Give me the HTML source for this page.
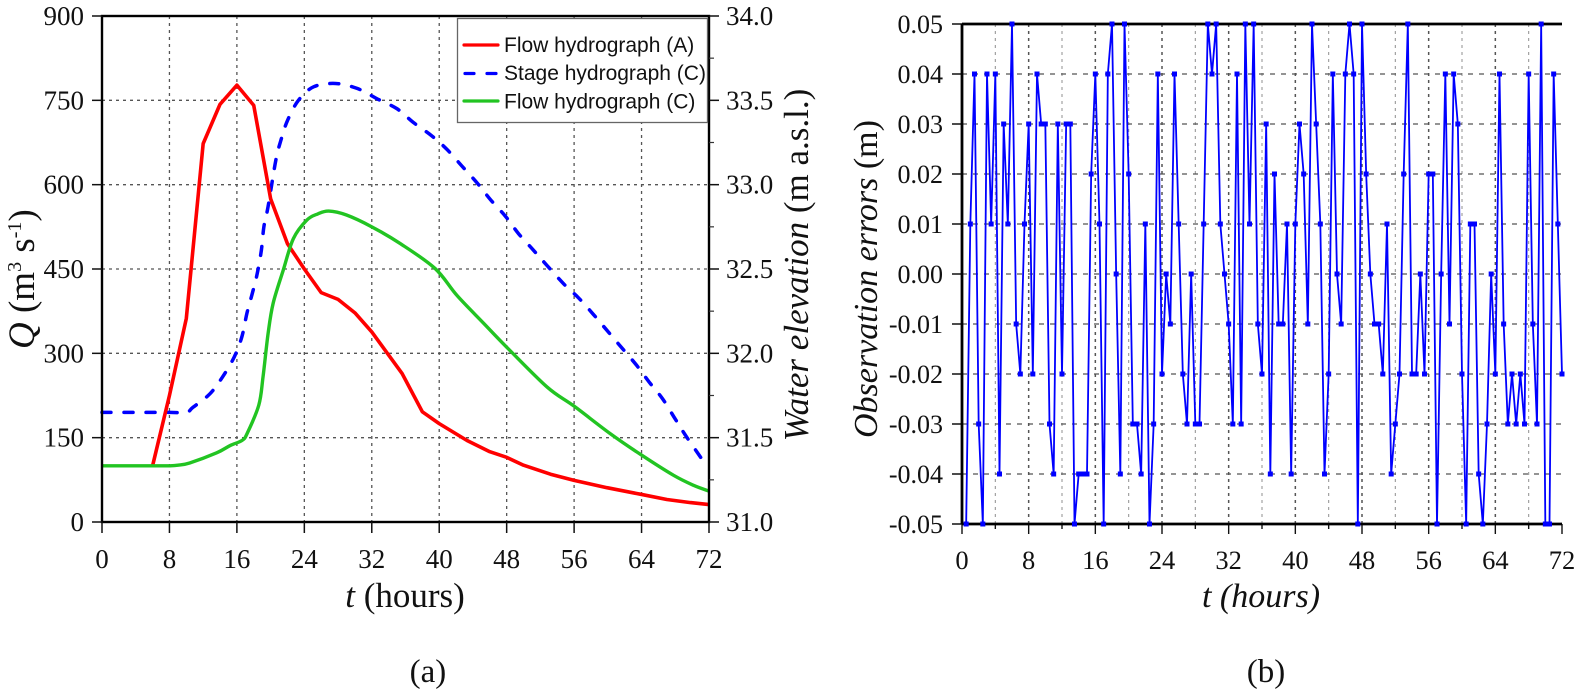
<!DOCTYPE html>
<html lang="en">
<head>
<meta charset="utf-8">
<title>Hydrographs and observation errors</title>
<style>
html,body{margin:0;padding:0;background:#fff;width:1584px;height:696px;overflow:hidden}
svg{display:block}
text{font-family:"Liberation Serif",serif;fill:#111}
.leg{font-family:"Liberation Sans",sans-serif;font-size:21px}
</style>
</head>
<body>
<svg id="figure" xmlns="http://www.w3.org/2000/svg" width="1584" height="696" viewBox="0 0 1584 696">
  <g id="a-grid"></g>
  <g id="a-series"></g>
  <g id="a-axes"></g>
  <g id="b-grid"></g>
  <g id="b-axes"></g>
  <g id="b-series"></g>

  <g>
    <rect x="457.5" y="18.5" width="250" height="104" fill="#fff" stroke="#666" stroke-width="1.3"/>
    <line x1="464" y1="45" x2="498" y2="45" stroke="#ff0000" stroke-width="3.2" stroke-linecap="round"/>
    <text class="leg" x="504" y="52">Flow hydrograph (A)</text>
    <line x1="465" y1="73.5" x2="497" y2="73.5" stroke="#0000ff" stroke-width="3.2" stroke-linecap="round" stroke-dasharray="9 13"/>
    <text class="leg" x="504" y="80">Stage hydrograph (C)</text>
    <line x1="464" y1="101" x2="498" y2="101" stroke="#22c422" stroke-width="3.2" stroke-linecap="round"/>
    <text class="leg" x="504" y="108.5">Flow hydrograph (C)</text>
  </g>

  <text transform="translate(34,349) rotate(-90)" font-size="37"><tspan font-style="italic">Q</tspan> (m<tspan font-size="20" dy="-13">3</tspan><tspan dy="13"> s</tspan><tspan font-size="20" dy="-13">-1</tspan><tspan dy="13">)</tspan></text>
  <text transform="translate(808,265) rotate(-90)" text-anchor="middle" font-size="35"><tspan font-style="italic">Water elevation</tspan> (m a.s.l.)</text>
  <text x="405" y="607" text-anchor="middle" font-size="35"><tspan font-style="italic">t</tspan> (hours)</text>
  <text x="428" y="682" text-anchor="middle" font-size="33">(a)</text>

  <text transform="translate(877,438) rotate(-90)" font-size="34"><tspan font-style="italic">Observation errors</tspan> (m)</text>
  <text x="1261" y="607" text-anchor="middle" font-size="34" font-style="italic">t (hours)</text>
  <text x="1266" y="682" text-anchor="middle" font-size="33">(b)</text>
</svg>

<script>
/* Panel (a) data */
var qTicks = [0, 150, 300, 450, 600, 750, 900];
var elevationTicks = ["31.0", "31.5", "32.0", "32.5", "33.0", "33.5", "34.0"];
var hourTicks = [0, 8, 16, 24, 32, 40, 48, 56, 64, 72];

var flowAHours = [6, 8, 10, 12, 14, 16, 18, 20, 22, 24, 26, 28, 30, 32, 34, 35.6, 38, 40, 43.3, 46, 48, 50, 53.2, 56, 59.9, 64, 67, 69.8, 72];
var flowAValues = [100, 225, 362, 673, 743, 777, 741, 575, 495, 450, 408, 396, 372, 338, 297, 264, 196, 175, 145, 125, 115, 101, 85, 74, 61, 49, 40, 34.5, 31];

var stageCHours = [0, 4, 8, 10, 10.8, 12.8, 14.3, 15.7, 16.6, 17.2, 17.8, 18.4, 18.9, 19.2, 19.7, 20.6, 21.2, 22, 23.3, 25.1, 27.7, 30.3, 32.6, 35, 36.9, 39.1, 40.9, 42.7, 44.5, 46.1, 47.9, 49.4, 51.2, 52.8, 54.8, 56.5, 58.3, 60, 61.7, 63.4, 64.9, 66.5, 68, 69.4, 71.2];
var stageCValues = [31.65, 31.65, 31.65, 31.65, 31.68, 31.76, 31.86, 31.98, 32.10, 32.24, 32.35, 32.47, 32.61, 32.75, 32.87, 33.14, 33.26, 33.38, 33.50, 33.58, 33.60, 33.57, 33.51, 33.45, 33.37, 33.29, 33.21, 33.11, 33.01, 32.91, 32.81, 32.71, 32.61, 32.52, 32.41, 32.33, 32.23, 32.13, 32.03, 31.93, 31.83, 31.73, 31.61, 31.50, 31.37];

var flowCHours = [0, 3, 6, 8, 9, 10.4, 13.6, 15.2, 16.6, 17.2, 18.6, 19.1, 19.7, 20.3, 21.5, 22.7, 24.3, 25.6, 26.9, 29, 32, 35.4, 39.5, 42.1, 45.3, 48, 52.8, 56, 60.3, 64, 67.8, 70.2, 72];
var flowCValues = [100, 100, 100, 100, 101, 105, 123, 136, 145, 157, 208, 258, 335, 389, 448, 504, 537, 548, 553, 546, 525, 495, 451, 403, 353, 311, 240, 206, 157, 119, 83, 65, 55];

/* Panel (b) data: one reading every half hour, starting at t = 0.5 h */
var errorStepHours = 0.5;
var errorValues = [
 -0.05, 0.01, 0.04, -0.03, -0.05, 0.04, 0.01, 0.04, -0.04, 0.03, 0.01, 0.05,
 -0.01, -0.02, 0.01, 0.03, -0.02, 0.04, 0.03, 0.03, -0.03, -0.04, 0.03, -0.02,
 0.03, 0.03, -0.05, -0.04, -0.04, -0.04, 0.02, 0.04, 0.01, -0.05, 0.04, 0.05,
 0.00, -0.04, 0.05, 0.02, -0.03, -0.03, -0.04, 0.01, -0.05, -0.03, 0.04, -0.02,
 0.00, -0.01, 0.04, 0.01, -0.02, -0.03, 0.00, -0.03, -0.03, 0.01, 0.05, 0.04,
 0.05, 0.01, 0.00, -0.01, -0.03, 0.04, -0.03, 0.05, 0.01, 0.05, -0.01, -0.02,
 0.03, -0.04, 0.02, -0.01, -0.01, 0.01, -0.04, 0.01, 0.03, 0.02, -0.01, 0.05,
 0.03, 0.01, -0.04, -0.02, 0.04, 0.00, -0.01, 0.04, 0.05, 0.04, -0.05, 0.05,
 0.02, 0.00, -0.01, -0.01, -0.02, 0.01, -0.04, -0.03, -0.02, 0.02, 0.05, -0.02,
 -0.02, 0.00, -0.02, 0.02, 0.02, -0.05, 0.00, 0.04, -0.01, 0.04, 0.03, -0.02,
 -0.05, 0.01, 0.01, -0.04, -0.05, -0.03, 0.00, -0.02, 0.04, -0.01, -0.03, -0.02,
 -0.03, -0.02, -0.03, 0.04, -0.01, -0.03, 0.05, -0.05, -0.05, 0.04, 0.01, -0.02
];
var errorTicks = ["-0.05", "-0.04", "-0.03", "-0.02", "-0.01", "0.00", "0.01", "0.02", "0.03", "0.04", "0.05"];
var errorHourTicks = [0, 4, 8, 12, 16, 20, 24, 28, 32, 36, 40, 44, 48, 52, 56, 60, 64, 68, 72];

var NS = "http://www.w3.org/2000/svg";
function mk(parent, tag, attrs, txt) {
  var el = document.createElementNS(NS, tag);
  for (var k in attrs) el.setAttribute(k, attrs[k]);
  if (txt !== undefined) el.textContent = txt;
  parent.appendChild(el);
  return el;
}
function pathFrom(xs, ys, fx, fy) {
  var d = "";
  for (var i = 0; i < xs.length; i++) d += (i ? "L" : "M") + fx(xs[i]).toFixed(2) + " " + fy(ys[i]).toFixed(2);
  return d;
}
function smoothFrom(xs, ys, fx, fy) {
  var px = xs.map(fx), py = ys.map(fy), n = xs.length;
  var d = "M" + px[0].toFixed(2) + " " + py[0].toFixed(2);
  for (var i = 0; i < n - 1; i++) {
    var a = Math.max(i - 1, 0), b = Math.min(i + 2, n - 1);
    var c1x = px[i] + (px[i + 1] - px[a]) / 6, c1y = py[i] + (py[i + 1] - py[a]) / 6;
    var c2x = px[i + 1] - (px[b] - px[i]) / 6, c2y = py[i + 1] - (py[b] - py[i]) / 6;
    d += "C" + c1x.toFixed(2) + " " + c1y.toFixed(2) + " " + c2x.toFixed(2) + " " + c2y.toFixed(2) + " " + px[i + 1].toFixed(2) + " " + py[i + 1].toFixed(2);
  }
  return d;
}

/* Panel (a) scales */
var aL = 102, aR = 709, aT = 16, aB = 522;
function ax(t) { return aL + (aR - aL) * t / 72; }
function ayQ(q) { return aB - (aB - aT) * q / 900; }
function ayE(e) { return aB - (aB - aT) * (e - 31) / 3; }

var aGrid = document.getElementById("a-grid");
var aSeries = document.getElementById("a-series");
var aAxes = document.getElementById("a-axes");

hourTicks.forEach(function (t) {
  if (t === 0 || t === 72) return;
  var g = mk(aGrid, "line", {x1: ax(t), x2: ax(t), y1: aT, y2: aB, stroke: "#555", "stroke-width": 1.3, "stroke-dasharray": "3 4"});
  
  
});
qTicks.forEach(function (q) {
  if (q === 0 || q === 900) return;
  var g = mk(aGrid, "line", {x1: aL, x2: aR, y1: ayQ(q), y2: ayQ(q), stroke: "#555", "stroke-width": 1.3, "stroke-dasharray": "3 4"});
  
  
});

var stagePath = mk(aSeries, "path", {d: smoothFrom(stageCHours, stageCValues, ax, ayE), fill: "none", stroke: "#0000ff", "stroke-width": 3.5, "stroke-dasharray": "9 13", "stroke-linecap": "round", "stroke-linejoin": "round"});


var flowAPath = mk(aSeries, "path", {d: pathFrom(flowAHours, flowAValues, ax, ayQ), fill: "none", stroke: "#ff0000", "stroke-width": 3.6, "stroke-linejoin": "round"});


var flowCPath = mk(aSeries, "path", {d: smoothFrom(flowCHours, flowCValues, ax, ayQ), fill: "none", stroke: "#22c422", "stroke-width": 3.4, "stroke-linejoin": "round"});



var aFrame = mk(aAxes, "rect", {x: aL, y: aT, width: aR - aL, height: aB - aT, fill: "none", stroke: "#000", "stroke-width": 2.4});



hourTicks.forEach(function (t) {
  var tk = mk(aAxes, "line", {x1: ax(t), x2: ax(t), y1: aB, y2: aB + 11, stroke: "#111", "stroke-width": 1.5});
  
  
  var lb = mk(aAxes, "text", {x: ax(t), y: 568, "text-anchor": "middle", "font-size": 27}, String(t));
  
  
});
qTicks.forEach(function (q) {
  var tk = mk(aAxes, "line", {x1: aL - 10, x2: aL, y1: ayQ(q), y2: ayQ(q), stroke: "#111", "stroke-width": 1.5});
  
  
  var lb = mk(aAxes, "text", {x: 84, y: ayQ(q) + 9, "text-anchor": "end", "font-size": 27}, String(q));
  
  
});
elevationTicks.forEach(function (e, i) {
  var v = parseFloat(e);
  var tk = mk(aAxes, "line", {x1: aR, x2: aR + 10, y1: ayE(v), y2: ayE(v), stroke: "#111", "stroke-width": 1.5});
  
  
  var lb = mk(aAxes, "text", {x: 726, y: ayE(v) + 9, "font-size": 27}, e);
  
  
  if (i < elevationTicks.length - 1) {
    var mn = mk(aAxes, "line", {x1: aR, x2: aR + 5, y1: ayE(v + 0.25), y2: ayE(v + 0.25), stroke: "#333", "stroke-width": 1.2});
    
    
  }
});

/* Panel (b) scales */
var bL = 962, bR = 1562, bT = 24, bB = 524;
function bx(t) { return bL + (bR - bL) * t / 72; }
function by(v) { return bB - (bB - bT) * (v + 0.05) / 0.1; }

var bGrid = document.getElementById("b-grid");
var bAxes = document.getElementById("b-axes");
var bSeries = document.getElementById("b-series");

errorHourTicks.forEach(function (t) {
  var major = t % 8 === 0;
  if (t !== 0 && t !== 72) {
    var g = mk(bGrid, "line", {x1: bx(t), x2: bx(t), y1: bT, y2: bB, stroke: major ? "#555" : "#999", "stroke-width": major ? 1.5 : 1.1, "stroke-dasharray": "3 4"});
    
    
  }
  var tk = mk(bAxes, "line", {x1: bx(t), x2: bx(t), y1: bB, y2: bB + (major ? 10 : 5), stroke: "#111", "stroke-width": 1.4});
  
  
  if (major) {
    var lb = mk(bAxes, "text", {x: bx(t), y: 569, "text-anchor": "middle", "font-size": 26.5}, String(t));
    
    
  }
});
errorTicks.forEach(function (e) {
  var v = parseFloat(e);
  if (v > -0.05 && v < 0.05) {
    var g = mk(bGrid, "line", {x1: bL, x2: bR, y1: by(v), y2: by(v), stroke: "#555", "stroke-width": 1.3, "stroke-dasharray": "5 6"});
    
    
  }
  var tk = mk(bAxes, "line", {x1: bL - 10, x2: bL, y1: by(v), y2: by(v), stroke: "#111", "stroke-width": 1.5});
  
  
  var lb = mk(bAxes, "text", {x: 943, y: by(v) + 9, "text-anchor": "end", "font-size": 26}, e);
  
  
});
var bLeft = mk(bAxes, "line", {x1: bL, x2: bL, y1: bT, y2: bB, stroke: "#000", "stroke-width": 2.8});


var bTop = mk(bAxes, "line", {x1: bL, x2: bR, y1: bT, y2: bT, stroke: "#000", "stroke-width": 2.8});


var bBottom = mk(bAxes, "line", {x1: bL, x2: bR, y1: bB, y2: bB, stroke: "#000", "stroke-width": 2.8});



var errorHours = errorValues.map(function (_, i) { return (i + 1) * errorStepHours; });
var errLine = mk(bSeries, "path", {d: pathFrom(errorHours, errorValues, bx, by), fill: "none", stroke: "#0000ff", "stroke-width": 1.8, "stroke-linejoin": "round"});


errorValues.forEach(function (v, i) {
  var m = mk(bSeries, "rect", {x: bx(errorHours[i]) - 2.5, y: by(v) - 2.5, width: 5, height: 5, fill: "#0000ff"});
  
  
});
</script>
</body>
</html>
